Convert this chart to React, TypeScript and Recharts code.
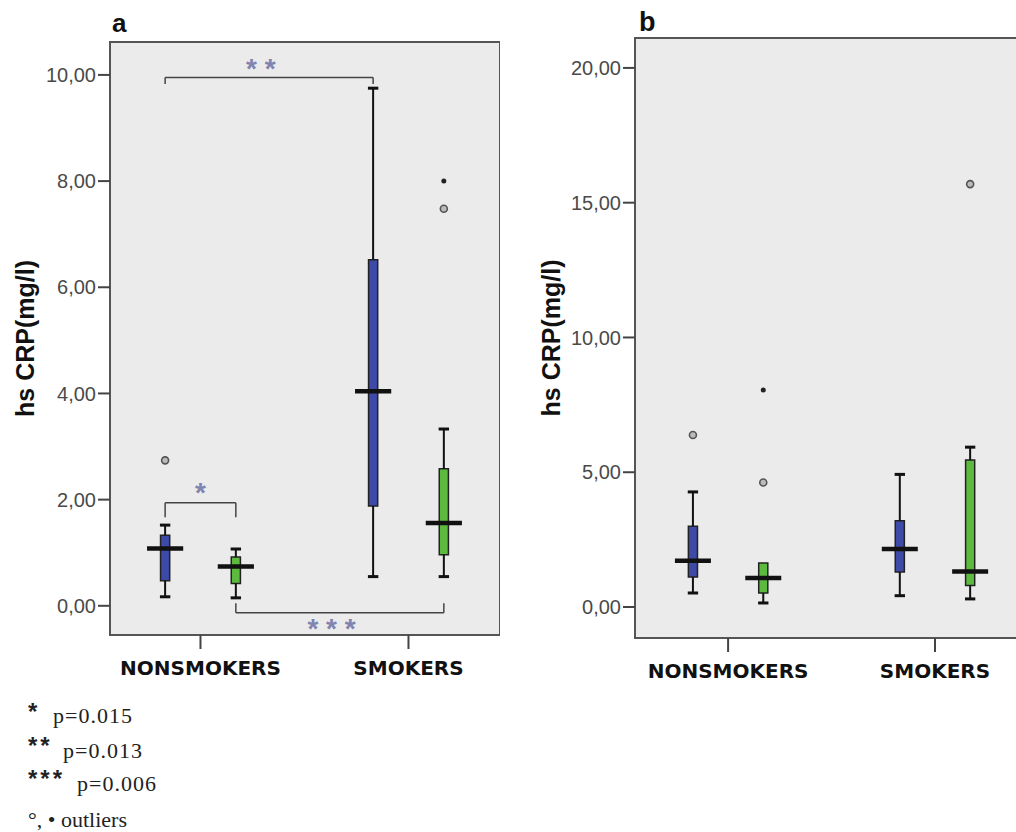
import React from "react";
import {
  ComposedChart,
  XAxis,
  YAxis,
  Scatter,
  ReferenceArea,
  ReferenceLine,
  ReferenceDot,
  Label,
} from "recharts";

const categories = ["NONSMOKERS", "SMOKERS"];
const categoryPos = [1, 2];

// box stats per category: [min, q1, median, q3, max]
const aBlue = [
  [0.17, 0.47, 1.08, 1.33, 1.52],
  [0.55, 1.88, 4.04, 6.52, 9.75],
];
const aGreen = [
  [0.15, 0.42, 0.74, 0.92, 1.07],
  [0.55, 0.96, 1.56, 2.58, 3.33],
];
const bBlue = [
  [0.52, 1.11, 1.72, 3.0, 4.27],
  [0.42, 1.3, 2.15, 3.2, 4.92],
];
const bGreen = [
  [0.15, 0.52, 1.08, 1.63, 1.63],
  [0.3, 0.8, 1.32, 5.45, 5.93],
];

// outliers: category index, group (0 blue, 1 green), value, filled (extreme)
const aOutliers = [
  { cat: 0, group: 0, value: 2.74, filled: false },
  { cat: 1, group: 1, value: 8.0, filled: true },
  { cat: 1, group: 1, value: 7.48, filled: false },
];
const bOutliers = [
  { cat: 0, group: 0, value: 6.38, filled: false },
  { cat: 0, group: 1, value: 8.05, filled: true },
  { cat: 0, group: 1, value: 4.62, filled: false },
  { cat: 1, group: 1, value: 15.69, filled: false },
];

const aTicks = [0, 2, 4, 6, 8, 10];
const bTicks = [0, 5, 10, 15, 20];

// significance brackets: from/to = [category, group]
const aBrackets = [
  { from: [0, 0], to: [1, 0], level: 9.95, tip: 9.83, stars: "* *", starY: 10.12, starX: 1.29 },
  { from: [0, 0], to: [0, 1], level: 1.94, tip: 1.67, stars: "*", starY: 2.15, starX: 1.0 },
  { from: [0, 1], to: [1, 1], level: -0.13, tip: 0.05, stars: "* * *", starY: -0.42, starX: 1.63 },
];

const legendRows = [
  { stars: "*", text: "p=0.015" },
  { stars: "**", text: "p=0.013" },
  { stars: "***", text: "p=0.006" },
];

const BLUE = "#3d4aa8";
const GREEN = "#5cbb3e";
const offsets = [-0.17, 0.17];
const BOX_HALF = 0.022;
const CAP_HALF = 0.025;
const MED_HALF = 0.087;

const fmt = (v: number) => v.toFixed(2).replace(".", ",");
const xOf = (cat: number, group: number) => categoryPos[cat] + offsets[group];

function Panel({
  width,
  height,
  top,
  yAxisWidth,
  xDomain,
  yDomain,
  ticks,
  blue,
  green,
  outliers,
  brackets,
  labelX,
}: any) {
  const areas: any[] = [];
  const lines: any[] = [];
  [blue, green].forEach((series: number[][], gi: number) =>
    series.forEach((s, ci) => {
      const x = xOf(ci, gi);
      const [mn, q1, md, q3, mx] = s;
      const k = `${gi}-${ci}`;
      areas.push(
        <ReferenceArea
          key={"box" + k}
          x1={x - BOX_HALF}
          x2={x + BOX_HALF}
          y1={q1}
          y2={q3}
          fill={gi === 0 ? BLUE : GREEN}
          fillOpacity={1}
          stroke="#222"
          strokeWidth={1.5}
        />
      );
      lines.push(
        <ReferenceLine key={"lw" + k} segment={[{ x, y: mn }, { x, y: q1 }]} stroke="#111" strokeWidth={2} />,
        <ReferenceLine key={"lc" + k} segment={[{ x: x - CAP_HALF, y: mn }, { x: x + CAP_HALF, y: mn }]} stroke="#111" strokeWidth={3} />
      );
      if (mx > q3) {
        lines.push(
          <ReferenceLine key={"uw" + k} segment={[{ x, y: q3 }, { x, y: mx }]} stroke="#111" strokeWidth={2} />,
          <ReferenceLine key={"uc" + k} segment={[{ x: x - CAP_HALF, y: mx }, { x: x + CAP_HALF, y: mx }]} stroke="#111" strokeWidth={3} />
        );
      }
      lines.push(
        <ReferenceLine key={"md" + k} segment={[{ x: x - MED_HALF, y: md }, { x: x + MED_HALF, y: md }]} stroke="#111" strokeWidth={4.5} />
      );
    })
  );

  const brack: any[] = [];
  (brackets || []).forEach((b: any, i: number) => {
    const x1 = xOf(b.from[0], b.from[1]);
    const x2 = xOf(b.to[0], b.to[1]);
    brack.push(
      <ReferenceLine key={"bh" + i} segment={[{ x: x1, y: b.level }, { x: x2, y: b.level }]} stroke="#444" strokeWidth={1.5} />,
      <ReferenceLine key={"bl" + i} segment={[{ x: x1, y: b.level }, { x: x1, y: b.tip }]} stroke="#444" strokeWidth={1.5} />,
      <ReferenceLine key={"br" + i} segment={[{ x: x2, y: b.level }, { x: x2, y: b.tip }]} stroke="#444" strokeWidth={1.5} />,
      <ReferenceDot
        key={"bs" + i}
        x={b.starX}
        y={b.starY}
        r={0}
        stroke="none"
        label={{ value: b.stars, position: "center", fill: "#7f84b0", fontSize: 28, fontWeight: "bold", fontFamily: "Liberation Sans" }}
      />
    );
  });

  const outData = outliers.map((o: any) => ({ x: xOf(o.cat, o.group), y: o.value, filled: o.filled }));

  return (
    <ComposedChart width={width} height={height} margin={{ top, right: 0, bottom: 10, left: 0 }}>
      <XAxis
        type="number"
        dataKey="x"
        domain={xDomain}
        allowDataOverflow
        ticks={categoryPos}
        interval={0}
        tickFormatter={(v: number) => categories[v - 1]}
        axisLine={false}
        tickLine={{ stroke: "#444", strokeWidth: 2 }}
        tickSize={14}
        tickMargin={12}
        height={45}
        tick={{ fill: "#111", fontFamily: "DejaVu Sans", fontWeight: "bold", fontSize: 20 }}
      />
      <YAxis
        type="number"
        domain={yDomain}
        allowDataOverflow
        ticks={ticks}
        interval={0}
        tickFormatter={fmt}
        width={yAxisWidth}
        axisLine={false}
        tickLine={{ stroke: "#444", strokeWidth: 2 }}
        tickSize={12}
        tickMargin={2}
        tick={{ fill: "#4a4a4a", fontFamily: "Liberation Sans", fontSize: 20 }}
      >
        <Label
          content={(p: any) => {
            const vb = p.viewBox || {};
            const cy = (vb.y || 0) + (vb.height || 0) / 2;
            return (
              <text
                x={labelX}
                y={cy}
                transform={`rotate(-90 ${labelX} ${cy})`}
                textAnchor="middle"
                dominantBaseline="central"
                fontFamily="Liberation Sans"
                fontWeight="bold"
                fontSize={25}
                fill="#111"
              >
                hs CRP(mg/l)
              </text>
            );
          }}
        />
      </YAxis>
      <ReferenceArea
        x1={xDomain[0]}
        x2={xDomain[1]}
        y1={yDomain[0]}
        y2={yDomain[1]}
        fill="#ebebeb"
        fillOpacity={1}
        stroke="#555"
        strokeWidth={2}
      />
      {areas}
      {lines}
      {brack}
      <Scatter
        data={outData}
        dataKey="y"
        isAnimationActive={false}
        shape={(p: any) =>
          p.payload.filled ? (
            <circle cx={p.cx} cy={p.cy} r={2.5} fill="#222" />
          ) : (
            <circle cx={p.cx} cy={p.cy} r={3.5} fill="#bbb" stroke="#555" strokeWidth={1.6} />
          )
        }
      />
    </ComposedChart>
  );
}

export default function App() {
  return (
    <div
      style={{
        position: "absolute",
        left: 0,
        top: 0,
        width: 1016,
        height: 832,
        overflow: "hidden",
        background: "#fff",
      }}
    >
      <div style={{ position: "absolute", left: 0, top: 0 }}>
        <Panel
          width={500}
          height={690}
          top={42}
          yAxisWidth={110}
          xDomain={[0.565, 2.44]}
          yDomain={[-0.55, 10.62]}
          ticks={aTicks}
          blue={aBlue}
          green={aGreen}
          outliers={aOutliers}
          brackets={aBrackets}
          labelX={25}
        />
      </div>
      <div style={{ position: "absolute", left: 500, top: 0 }}>
        <Panel
          width={526}
          height={693}
          top={38}
          yAxisWidth={135}
          xDomain={[0.55, 2.44]}
          yDomain={[-1.15, 21.11]}
          ticks={bTicks}
          blue={bBlue}
          green={bGreen}
          outliers={bOutliers}
          brackets={[]}
          labelX={51}
        />
      </div>
      <svg
        width={1016}
        height={832}
        style={{ position: "absolute", left: 0, top: 0, pointerEvents: "none" }}
      >
        <text x={112} y={32} fontFamily="Liberation Sans" fontWeight="bold" fontSize={26} fill="#111">
          a
        </text>
        <text x={639} y={31} fontFamily="Liberation Sans" fontWeight="bold" fontSize={27} fill="#111">
          b
        </text>
        {legendRows.map((r, i) => (
          <g key={i}>
            <text x={28} y={[720, 754, 787][i]} fontFamily="Liberation Sans" fontWeight="bold" fontSize={24} letterSpacing={3} fill="#222">
              {r.stars}
            </text>
            <text x={[53, 63, 77][i]} y={[723, 758, 791][i]} fontFamily="Liberation Serif" fontSize={22} letterSpacing={1} fill="#222">
              {r.text}
            </text>
          </g>
        ))}
        <text x={28} y={827} fontFamily="Liberation Serif" fontSize={22} fill="#222">
          °, • outliers
        </text>
      </svg>
    </div>
  );
}
